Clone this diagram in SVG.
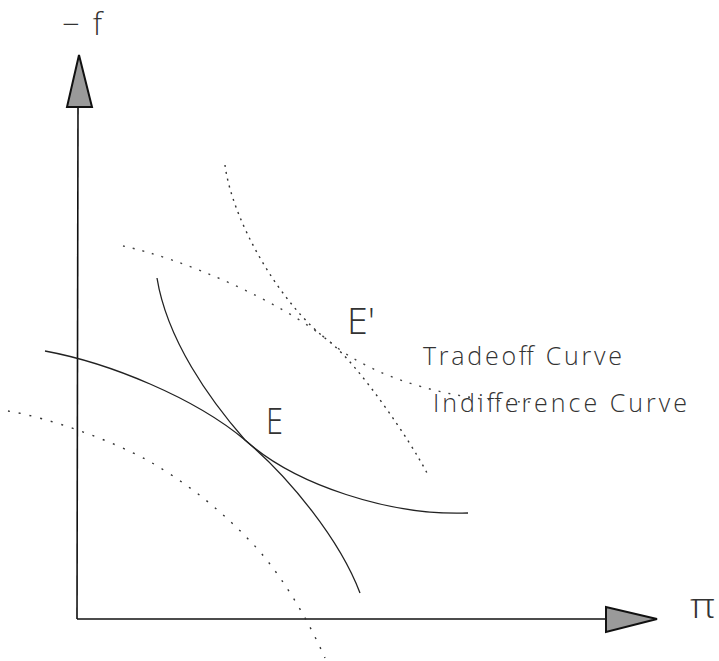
<svg xmlns="http://www.w3.org/2000/svg" width="719" height="661" viewBox="0 0 719 661">
<style>
.axis{stroke:#111;stroke-width:1.6;fill:none}
.head{fill:#9a9a9a;stroke:#111;stroke-width:2;stroke-linejoin:miter}
.solid{stroke:#222;stroke-width:1.3;fill:none}
.dotA{stroke:#333;stroke-width:1.4;fill:none;stroke-dasharray:2 5}
.dotB{stroke:#444;stroke-width:1.4;fill:none;stroke-dasharray:2 8}
.dotC{stroke:#333;stroke-width:1.4;fill:none;stroke-dasharray:2 9}
text{font-family:"Open Sans","Liberation Sans",sans-serif;font-weight:300;fill:#333}
</style>
<rect width="719" height="661" fill="#fff"/>
<g id="axes">
<line class="axis" x1="78" y1="107" x2="77" y2="619"/>
<line class="axis" x1="77" y1="619" x2="606" y2="619"/>
<polygon class="head" points="79,55 92,107 67,107"/>
<polygon class="head" points="657,619 606,607 606,632"/>
<text x="62" y="35" font-size="31" textLength="40" lengthAdjust="spacing">−f</text>
<text x="690" y="618" font-size="34" textLength="25" lengthAdjust="spacingAndGlyphs">π</text>
</g>
<g id="curves">
<path id="tradeoff-solid" class="solid" d="M45,351 C110,363 195,398 245,440 C295,485 390,516 468,513"/>
<path id="indifference-solid" class="solid" d="M157,278 C167,340 210,400 245,440 C290,478 340,540 360,593"/>
<path id="lower-dotted" class="dotC" d="M8,411 C50,418 110,440 147,460 C182,480 217,506 252,543 C277,569 305,613 325,658"/>
<path id="indifference-dotted" class="dotA" d="M225,165 C232,220 280,305 330,342 C360,367 410,440 427,473"/>
<path id="tradeoff-dotted" class="dotB" d="M123,246 C180,258 280,300 330,342 C375,380 460,403 535,402"/>
</g>
<g id="labels">
<text x="266" y="434" font-size="37" textLength="17" lengthAdjust="spacingAndGlyphs">E</text>
<text x="347" y="334" font-size="37" textLength="28" lengthAdjust="spacingAndGlyphs">E'</text>
<text x="423" y="365" font-size="25" textLength="199" lengthAdjust="spacing">Tradeoff Curve</text>
<text x="433" y="412" font-size="25" textLength="254" lengthAdjust="spacing">Indifference Curve</text>
</g>
</svg>
